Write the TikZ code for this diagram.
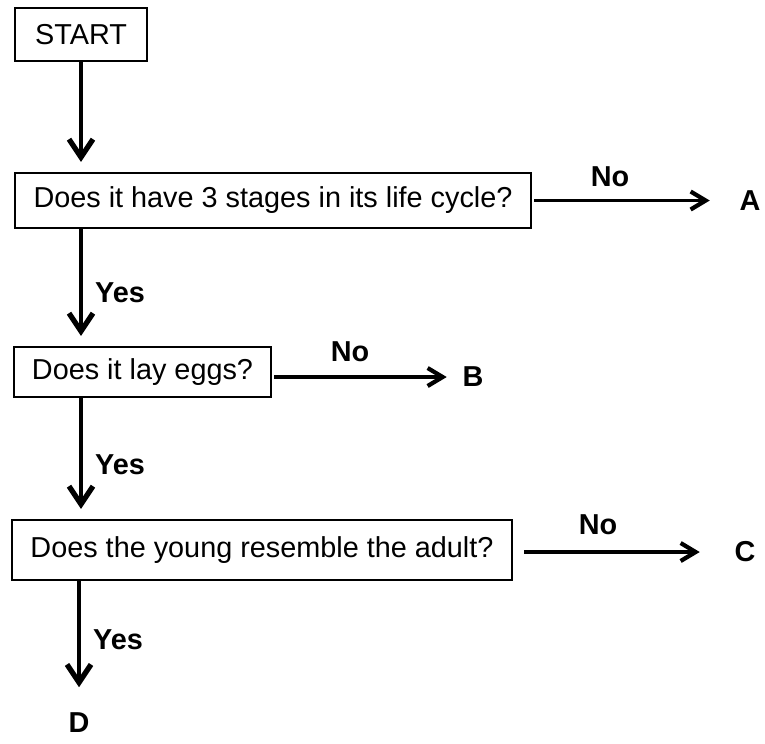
\documentclass[tikz,border=0pt]{standalone}
\usepackage{fontspec}
\setmainfont{Liberation Sans}
\usetikzlibrary{arrows.meta}

\begin{document}
\begin{tikzpicture}[
    qbox/.style={draw, line width=1.2pt, inner sep=0pt, font=\fontsize{16.4}{19}\selectfont},
    answer/.style={inner sep=0pt, font=\fontsize{16.4}{19}\selectfont\bfseries},
    downarrow/.style={line width=2.6pt, -{Straight Barb[length=0.36cm, width=0.48cm, line width=3pt]}, shorten >=0.2cm},
    sidearrow/.style={line width=2pt, -{Straight Barb[length=0.3cm, width=0.36cm, line width=2.4pt]}}
]
\useasboundingbox (0,0) rectangle (15.3,-14.86);

% Question boxes
\node[qbox, minimum width=2.64cm, minimum height=1.06cm] (start) at (1.62,-0.69) {START};
\node[qbox, minimum width=10.32cm, minimum height=1.1cm] (q1) at (5.46,-4.01) {Does it have 3 stages in its life cycle?};
\node[qbox, minimum width=5.14cm, minimum height=1.0cm] (q2) at (2.85,-7.44) {Does it lay eggs?};
\node[qbox, minimum width=10.0cm, minimum height=1.2cm] (q3) at (5.24,-11.0) {Does the young resemble the adult?};

% Outcomes
\node[answer] (a) at (15.0,-4.02) {A};
\node[answer] (b) at (9.46,-7.54) {B};
\node[answer] (c) at (14.9,-11.04) {C};
\node[answer] (d) at (1.58,-14.46) {D};

% Yes / No labels
\node[answer] (yes1) at (2.4,-5.86) {Yes};
\node[answer] (yes2) at (2.4,-9.3) {Yes};
\node[answer] (yes3) at (2.36,-12.8) {Yes};
\node[answer] (no1) at (12.2,-3.54) {No};
\node[answer] (no2) at (7.0,-7.04) {No};
\node[answer] (no3) at (11.96,-10.5) {No};

% Down the chart
\draw[downarrow] (start.south) -- (start.south |- q1.north);
\draw[downarrow] (q1.south -| start) -- (q2.north -| start);
\draw[downarrow] (q2.south -| start) -- (q3.north -| start);
\draw[downarrow, shorten >=0.51cm] (q3.south -| d) -- (d.north);

% Side exits
\draw[sidearrow, shorten <=0.04cm, shorten >=0.59cm] (q1.east) -- (q1.east -| a.west);
\draw[sidearrow, shorten <=0.04cm, shorten >=0.31cm] (q2.east |- b) -- (b.west);
\draw[sidearrow, shorten <=0.22cm, shorten >=0.69cm] (q3.east |- c) -- (c.west);

\end{tikzpicture}
\end{document}
